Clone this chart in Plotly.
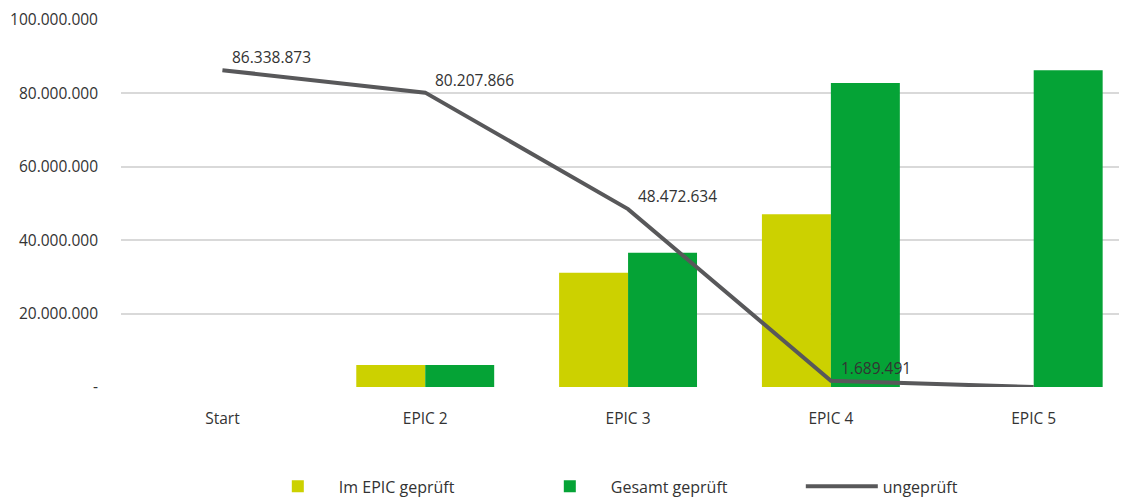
import plotly.graph_objects as go

categories = ["Start", "EPIC 2", "EPIC 3", "EPIC 4", "EPIC 5"]
im_epic = [0, 6000000, 31100000, 47100000, 0]
gesamt = [0, 6000000, 36600000, 82800000, 86300000]
ungeprueft = [86338873, 80207866, 48472634, 1689491, 0]
line_labels = ["86.338.873", "80.207.866", "48.472.634", "1.689.491", ""]
y_tickvals = [0, 20000000, 40000000, 60000000, 80000000, 100000000]
y_ticktext = ["-", "20.000.000", "40.000.000", "60.000.000", "80.000.000", "100.000.000"]

FONT = "Open Sans"
TXT = "#333333"
FS = 15.5

fig = go.Figure()
fig.add_trace(go.Bar(x=categories, y=im_epic, name="Im EPIC geprüft",
                     marker=dict(color="#CCD100", line=dict(width=0))))
fig.add_trace(go.Bar(x=categories, y=gesamt, name="Gesamt geprüft",
                     marker=dict(color="#05A336", line=dict(width=0))))
fig.add_trace(go.Scatter(x=categories, y=ungeprueft, name="ungeprüft", mode="lines",
                         line=dict(color="#58585A", width=4)))

for c, v, t in zip(categories, ungeprueft, line_labels):
    if t:
        fig.add_annotation(x=c, y=v, text=t, showarrow=False, xanchor="left",
                           yanchor="middle", xshift=8, yshift=13,
                           font=dict(family=FONT, size=FS, color=TXT))

# the page body adds an 8px margin, so the figure is sized to fit the window
fig.update_layout(
    width=1119, height=491,
    margin=dict(l=113, r=0, t=12, b=112, autoexpand=False),
    paper_bgcolor="white", plot_bgcolor="white",
    barmode="group", bargap=0.32, bargroupgap=0,
    font=dict(family=FONT, size=FS, color=TXT),
    showlegend=True,
    legend=dict(orientation="h", x=0.135, xanchor="left", y=-0.271, yanchor="middle",
                font=dict(family=FONT, size=16, color=TXT),
                entrywidth=185, itemwidth=72, traceorder="normal"),
    xaxis=dict(range=[-0.5, 4.46], showgrid=False, showline=False, zeroline=False,
               automargin=False,
               ticks="", ticklabelstandoff=20, tickfont=dict(size=FS, color=TXT)),
    yaxis=dict(range=[0, 100000000], tickvals=y_tickvals, ticktext=y_ticktext,
               showgrid=True, gridcolor="#D9D9D9", gridwidth=2, zeroline=False,
               automargin=False,
               showline=False, ticks="", ticklabelstandoff=22,
               tickfont=dict(size=FS, color=TXT)),
)

fig.write_html("out.html")
